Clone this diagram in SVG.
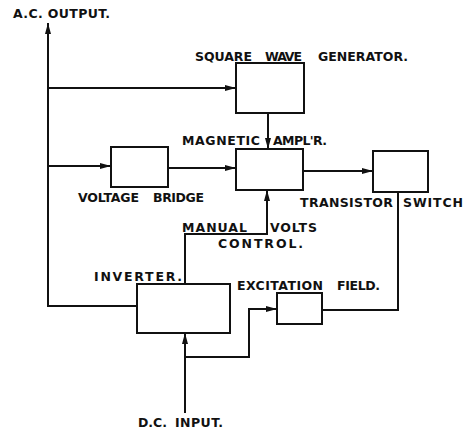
<svg xmlns="http://www.w3.org/2000/svg" width="465" height="431" viewBox="0 0 465 431">
<defs>
<marker id="arr" markerUnits="userSpaceOnUse" markerWidth="12" markerHeight="8" refX="11" refY="4" orient="auto">
<path d="M0,1 L11,4 L0,7 Z" fill="#111"/>
</marker>
<style>
.box{fill:#fff;stroke:#111;stroke-width:2}
.ln{fill:none;stroke:#111;stroke-width:2}
.ar{marker-end:url(#arr)}
text{font-family:"DejaVu Sans","Liberation Sans",sans-serif;font-weight:bold;font-size:12.5px;fill:#111}
</style>
</defs>
<rect width="465" height="431" fill="#fff"/>
<g id="connectors">
<path class="ln ar" d="M137,306 H48 V23"/>
<path class="ln ar" d="M48,88 H236"/>
<path class="ln ar" d="M48,166 H111"/>
<path class="ln ar" d="M168,168 H236"/>
<path class="ln ar" d="M268,113 V149"/>
<path class="ln ar" d="M303,171 H373"/>
<path class="ln" d="M398,192 V310 H322"/>
<path class="ln ar" d="M185,284 V234 H267 V190"/>
<path class="ln ar" d="M185,413 V333"/>
<path class="ln ar" d="M185,357 H249 V309 H277"/>
</g>
<g id="ac-output"><text x="13" y="18" textLength="97" lengthAdjust="spacing">A.C. OUTPUT.</text></g>
<g id="square-wave-generator">
<rect class="box" x="236" y="63" width="68" height="50"/>
<text x="195" y="61"><tspan textLength="57" lengthAdjust="spacing">SQUARE</tspan><tspan x="265" textLength="37" lengthAdjust="spacing">WAVE</tspan><tspan x="318" textLength="90" lengthAdjust="spacing">GENERATOR.</tspan></text>
</g>
<g id="magnetic-amplifier">
<rect class="box" x="236" y="149" width="67" height="41"/>
<text x="182" y="145"><tspan textLength="78" lengthAdjust="spacing">MAGNETIC</tspan><tspan x="273" textLength="54" lengthAdjust="spacing">AMPL'R.</tspan></text>
</g>
<g id="voltage-bridge">
<rect class="box" x="111" y="147" width="57" height="40"/>
<text x="78" y="202"><tspan textLength="61" lengthAdjust="spacing">VOLTAGE</tspan><tspan x="153" textLength="51" lengthAdjust="spacing">BRIDGE</tspan></text>
</g>
<g id="transistor-switch">
<rect class="box" x="373" y="151" width="55" height="41"/>
<text x="300" y="207"><tspan textLength="93" lengthAdjust="spacing">TRANSISTOR</tspan><tspan x="403" textLength="60" lengthAdjust="spacing">SWITCH</tspan></text>
</g>
<g id="manual-volts-control">
<text x="182" y="232"><tspan textLength="65" lengthAdjust="spacing">MANUAL</tspan><tspan x="270" textLength="47" lengthAdjust="spacing">VOLTS</tspan><tspan x="218" y="248" textLength="85" lengthAdjust="spacing">CONTROL.</tspan></text>
</g>
<g id="inverter">
<rect class="box" x="137" y="284" width="93" height="49"/>
<text x="94" y="281" textLength="88" lengthAdjust="spacing">INVERTER.</text>
</g>
<g id="excitation-field">
<rect class="box" x="277" y="293" width="45" height="31"/>
<text x="237" y="290"><tspan textLength="86" lengthAdjust="spacing">EXCITATION</tspan><tspan x="337" textLength="43" lengthAdjust="spacing">FIELD.</tspan></text>
</g>
<g id="dc-input"><text x="138" y="427"><tspan textLength="29" lengthAdjust="spacing">D.C.</tspan><tspan x="175" textLength="48" lengthAdjust="spacing">INPUT.</tspan></text></g>
</svg>
